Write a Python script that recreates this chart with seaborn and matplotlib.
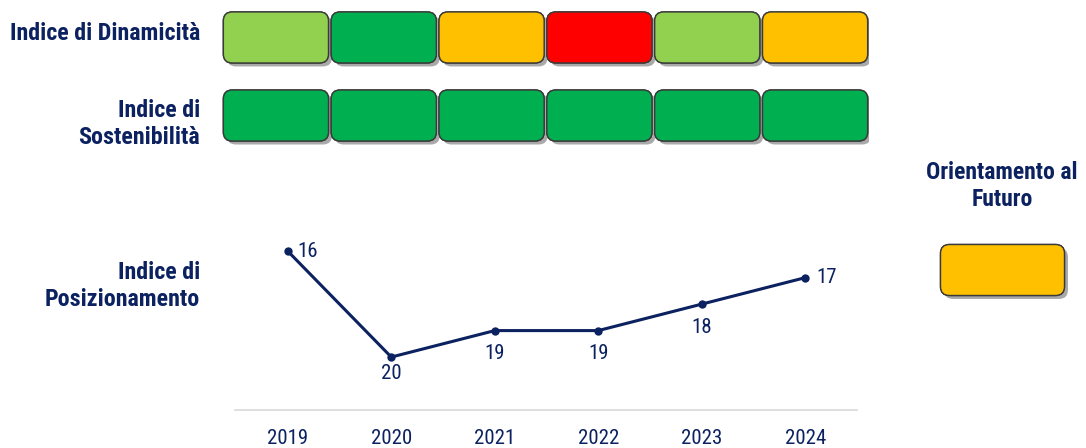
import matplotlib
matplotlib.use("Agg")
import matplotlib.pyplot as plt
import matplotlib.patheffects as pe
from matplotlib.patches import FancyBboxPatch
import seaborn as sns
import pandas as pd

years = ["2019", "2020", "2021", "2022", "2023", "2024"]
dinamicita = ["#92D050", "#00B050", "#FFC000", "#FF0000", "#92D050", "#FFC000"]
sostenibilita = ["#00B050", "#00B050", "#00B050", "#00B050", "#00B050", "#00B050"]
posizionamento = [16, 20, 19, 19, 18, 17]
label_side = ["right", "below", "below", "below", "below", "right"]
label_gap = [7, 5, 10, 10, 10, 8]
orientamento = "#FFC000"

row_labels = ["Indice di Dinamicità", "Indice di\nSostenibilità"]
pos_label = "Indice di\nPosizionamento"
orient_label = "Orientamento al\nFuturo"

NAVY = "#0B2160"
EDGE = "#3A3A3A"

sns.set_theme(style="white")
plt.rcParams["font.family"] = ["Roboto Condensed", "Arial Narrow", "Roboto", "DejaVu Sans"]

W, H = 1086, 448
fig = plt.figure(figsize=(W / 100, H / 100), dpi=100)


def fx(px):
    return px / W


def fy(py):
    return 1 - py / H


shadow = [pe.withSimplePatchShadow(offset=(2.5, -2.5), shadow_rgbFace="#555555", alpha=0.5), pe.Normal()]


def draw_box(ax, xc, yc, w, h, color, x_unit, y_unit, r_px=9):
    p = FancyBboxPatch((xc - w / 2, yc - h / 2), w, h,
                       boxstyle="round,pad=0,rounding_size=%f" % (r_px / x_unit),
                       mutation_aspect=x_unit / y_unit,
                       facecolor=color, edgecolor=EDGE, linewidth=1.0,
                       path_effects=shadow)
    ax.add_patch(p)


# ---- boxes (two rows) ----
ax_b = fig.add_axes([fx(222), fy(155), fx(647), 155 / H])
ax_b.set_xlim(-0.5, len(years) - 0.5)
ax_b.set_ylim(1.506, -0.48)
ax_b.axis("off")
x_unit = 647 / 6
y_unit = 78
for r, row in enumerate([dinamicita, sostenibilita]):
    for i, c in enumerate(row):
        draw_box(ax_b, i, r, 0.975, 51 / y_unit, c, x_unit, y_unit)

# ---- orientamento box ----
ax_o = fig.add_axes([fx(930), fy(305), fx(145), 70 / H])
ax_o.set_xlim(-0.5, 0.5)
ax_o.set_ylim(-0.5, 0.5)
ax_o.axis("off")
draw_box(ax_o, 0.0, 0, 124 / 145, 51 / 70, orientamento, 145, 70)

# ---- line chart ----
ax_l = fig.add_axes([fx(235), fy(410), fx(622), 180 / H])
df = pd.DataFrame({"idx": range(len(years)), "rank": posizionamento})
sns.lineplot(data=df, x="idx", y="rank", ax=ax_l, color=NAVY, linewidth=2.2,
             marker="o", markersize=6, markeredgewidth=0)
ax_l.set_xlim(-0.51, 5.5)
ax_l.set_ylim(22, 15.2)
ax_l.set_xticks(range(len(years)))
ax_l.set_xticklabels(years, color=NAVY, fontsize=15)
ax_l.set_yticks([])
ax_l.set_xlabel("")
ax_l.set_ylabel("")
ax_l.tick_params(axis="x", length=0, pad=14)
for s in ["top", "left", "right"]:
    ax_l.spines[s].set_visible(False)
ax_l.spines["bottom"].set_color("#D9D9D9")
ax_l.spines["bottom"].set_linewidth(1.2)
for i, (v, side, g) in enumerate(zip(posizionamento, label_side, label_gap)):
    if side == "right":
        ax_l.annotate(str(v), (i, v), xytext=(g, 0), textcoords="offset points",
                      ha="left", va="center", color=NAVY, fontsize=15)
    else:
        ax_l.annotate(str(v), (i, v), xytext=(0, -g), textcoords="offset points",
                      ha="center", va="top", color=NAVY, fontsize=15)

# ---- labels ----
lab_kw = dict(color=NAVY, fontsize=17.3, fontweight="bold", ha="right", va="center", linespacing=1.2)
fig.text(fx(200), fy(34), row_labels[0], **lab_kw)
fig.text(fx(200), fy(124), row_labels[1], **lab_kw)
fig.text(fx(200), fy(286), pos_label, **lab_kw)
fig.text(fx(1002), fy(186), orient_label, color=NAVY, fontsize=17, fontweight="bold",
         ha="center", va="center", linespacing=1.2)

fig.savefig("out.png", dpi=100)
